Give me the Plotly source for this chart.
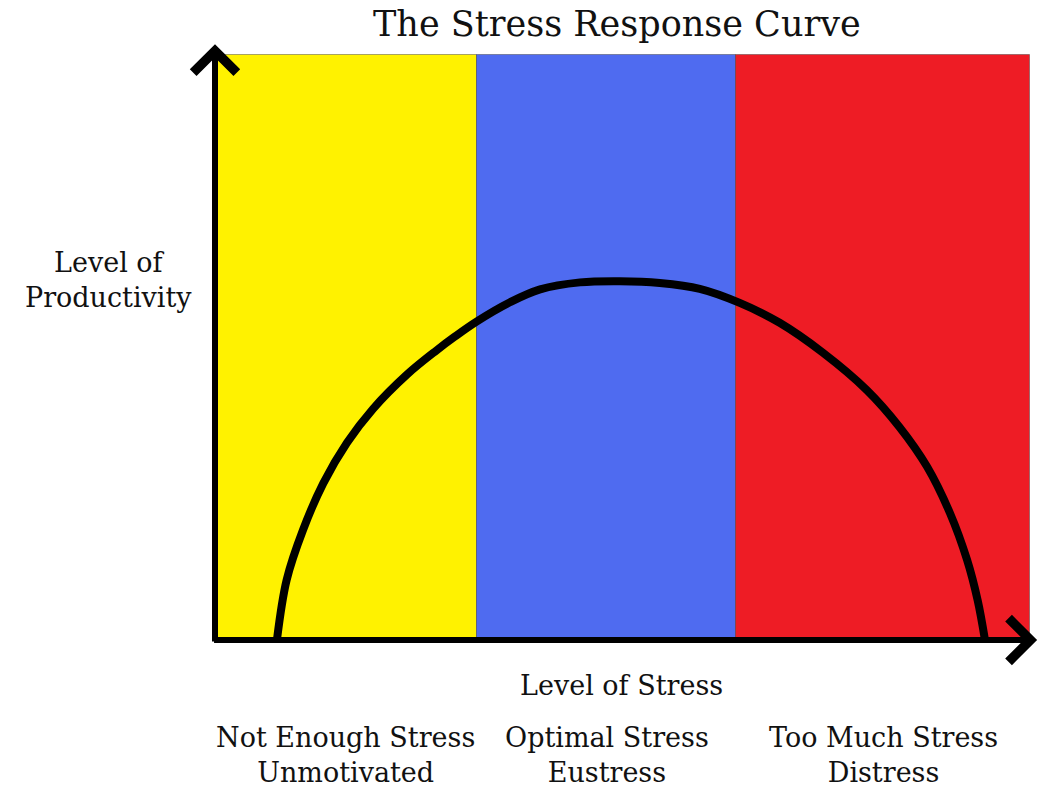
import plotly.graph_objects as go

# Band edges along the stress axis (0-100) and their colours
band_edges = [0, 32.1, 64.0, 100]
band_colors = ["#FFF200", "#4F6BF0", "#EE1C25"]
band_labels = [
    "Not Enough Stress<br>Unmotivated",
    "Optimal Stress<br>Eustress",
    "Too Much Stress<br>Distress",
]

# Stress response curve
stress = [7.6, 8.8, 10.8, 13.3, 16.2, 19.4, 23.6, 27.2, 29.4, 32.1, 36.2, 39.9,
          44.8, 49.7, 54.6, 59.5, 64.4, 69.3, 74.6, 80.0, 84.0, 87.4, 90.2, 92.3, 93.6, 94.5]
productivity = [0, 10.3, 18.8, 26.8, 33.7, 39.5, 45.4, 49.5, 51.8, 54.4, 57.7, 59.9,
                61.1, 61.3, 61.0, 60.0, 57.6, 54.2, 49.1, 42.7, 36.4, 29.6, 21.7, 13.7, 6.8, 0]

centers = [(a + b) / 2 for a, b in zip(band_edges[:-1], band_edges[1:])]
widths = [b - a for a, b in zip(band_edges[:-1], band_edges[1:])]

fig = go.Figure()

fig.add_trace(go.Bar(
    x=centers, y=[100] * len(centers), width=widths,
    marker=dict(color=band_colors, line=dict(color="rgba(60,60,60,0.45)", width=1)),
    hoverinfo="skip", showlegend=False,
))

fig.add_trace(go.Scatter(
    x=stress, y=productivity, mode="lines",
    line=dict(color="black", width=8, shape="spline", smoothing=1.0),
    hoverinfo="skip", showlegend=False,
))

text_font = dict(family="DejaVu Serif", size=27, color="#111111")

# axes drawn as arrows
fig.add_annotation(x=0, y=101.8, ax=0, ay=-0.5, xref="x", yref="y", axref="x", ayref="y",
                   showarrow=True, arrowhead=4, arrowsize=1.4, arrowwidth=6,
                   arrowcolor="black", text="")
fig.add_annotation(x=100.9, y=0, ax=-0.3, ay=0, xref="x", yref="y", axref="x", ayref="y",
                   showarrow=True, arrowhead=4, arrowsize=1.4, arrowwidth=6,
                   arrowcolor="black", text="")

fig.add_annotation(x=0.486, y=1.031, xref="paper", yref="paper",
                   xanchor="center", yanchor="middle",
                   showarrow=False, text="The Stress Response Curve",
                   font=dict(family="DejaVu Serif", size=35, color="#111111"))
fig.add_annotation(x=-0.129, y=0.603, xref="paper", yref="paper",
                   xanchor="center", yanchor="middle", showarrow=False,
                   text="Level of<br>Productivity", font=text_font)
fig.add_annotation(x=0.492, y=-0.0754, xref="paper", yref="paper",
                   xanchor="center", yanchor="middle", showarrow=False,
                   text="Level of Stress", font=text_font)
for c, lab in zip(centers, band_labels):
    fig.add_annotation(x=c, y=-0.193, xref="x", yref="paper",
                       xanchor="center", yanchor="middle", showarrow=False,
                       text=lab, font=text_font)

fig.update_xaxes(range=[0, 101.5], visible=False)
fig.update_yaxes(range=[0, 102], visible=False)
fig.update_layout(
    width=1045, height=789,
    margin=dict(l=215, r=3, t=43, b=149),
    plot_bgcolor="white", paper_bgcolor="white",
    bargap=0,
)

# drop the default page margin so the figure sits at the window corner
fig.write_html("out.html", config={"displayModeBar": False},
               post_script="document.body.style.margin = '0';")
